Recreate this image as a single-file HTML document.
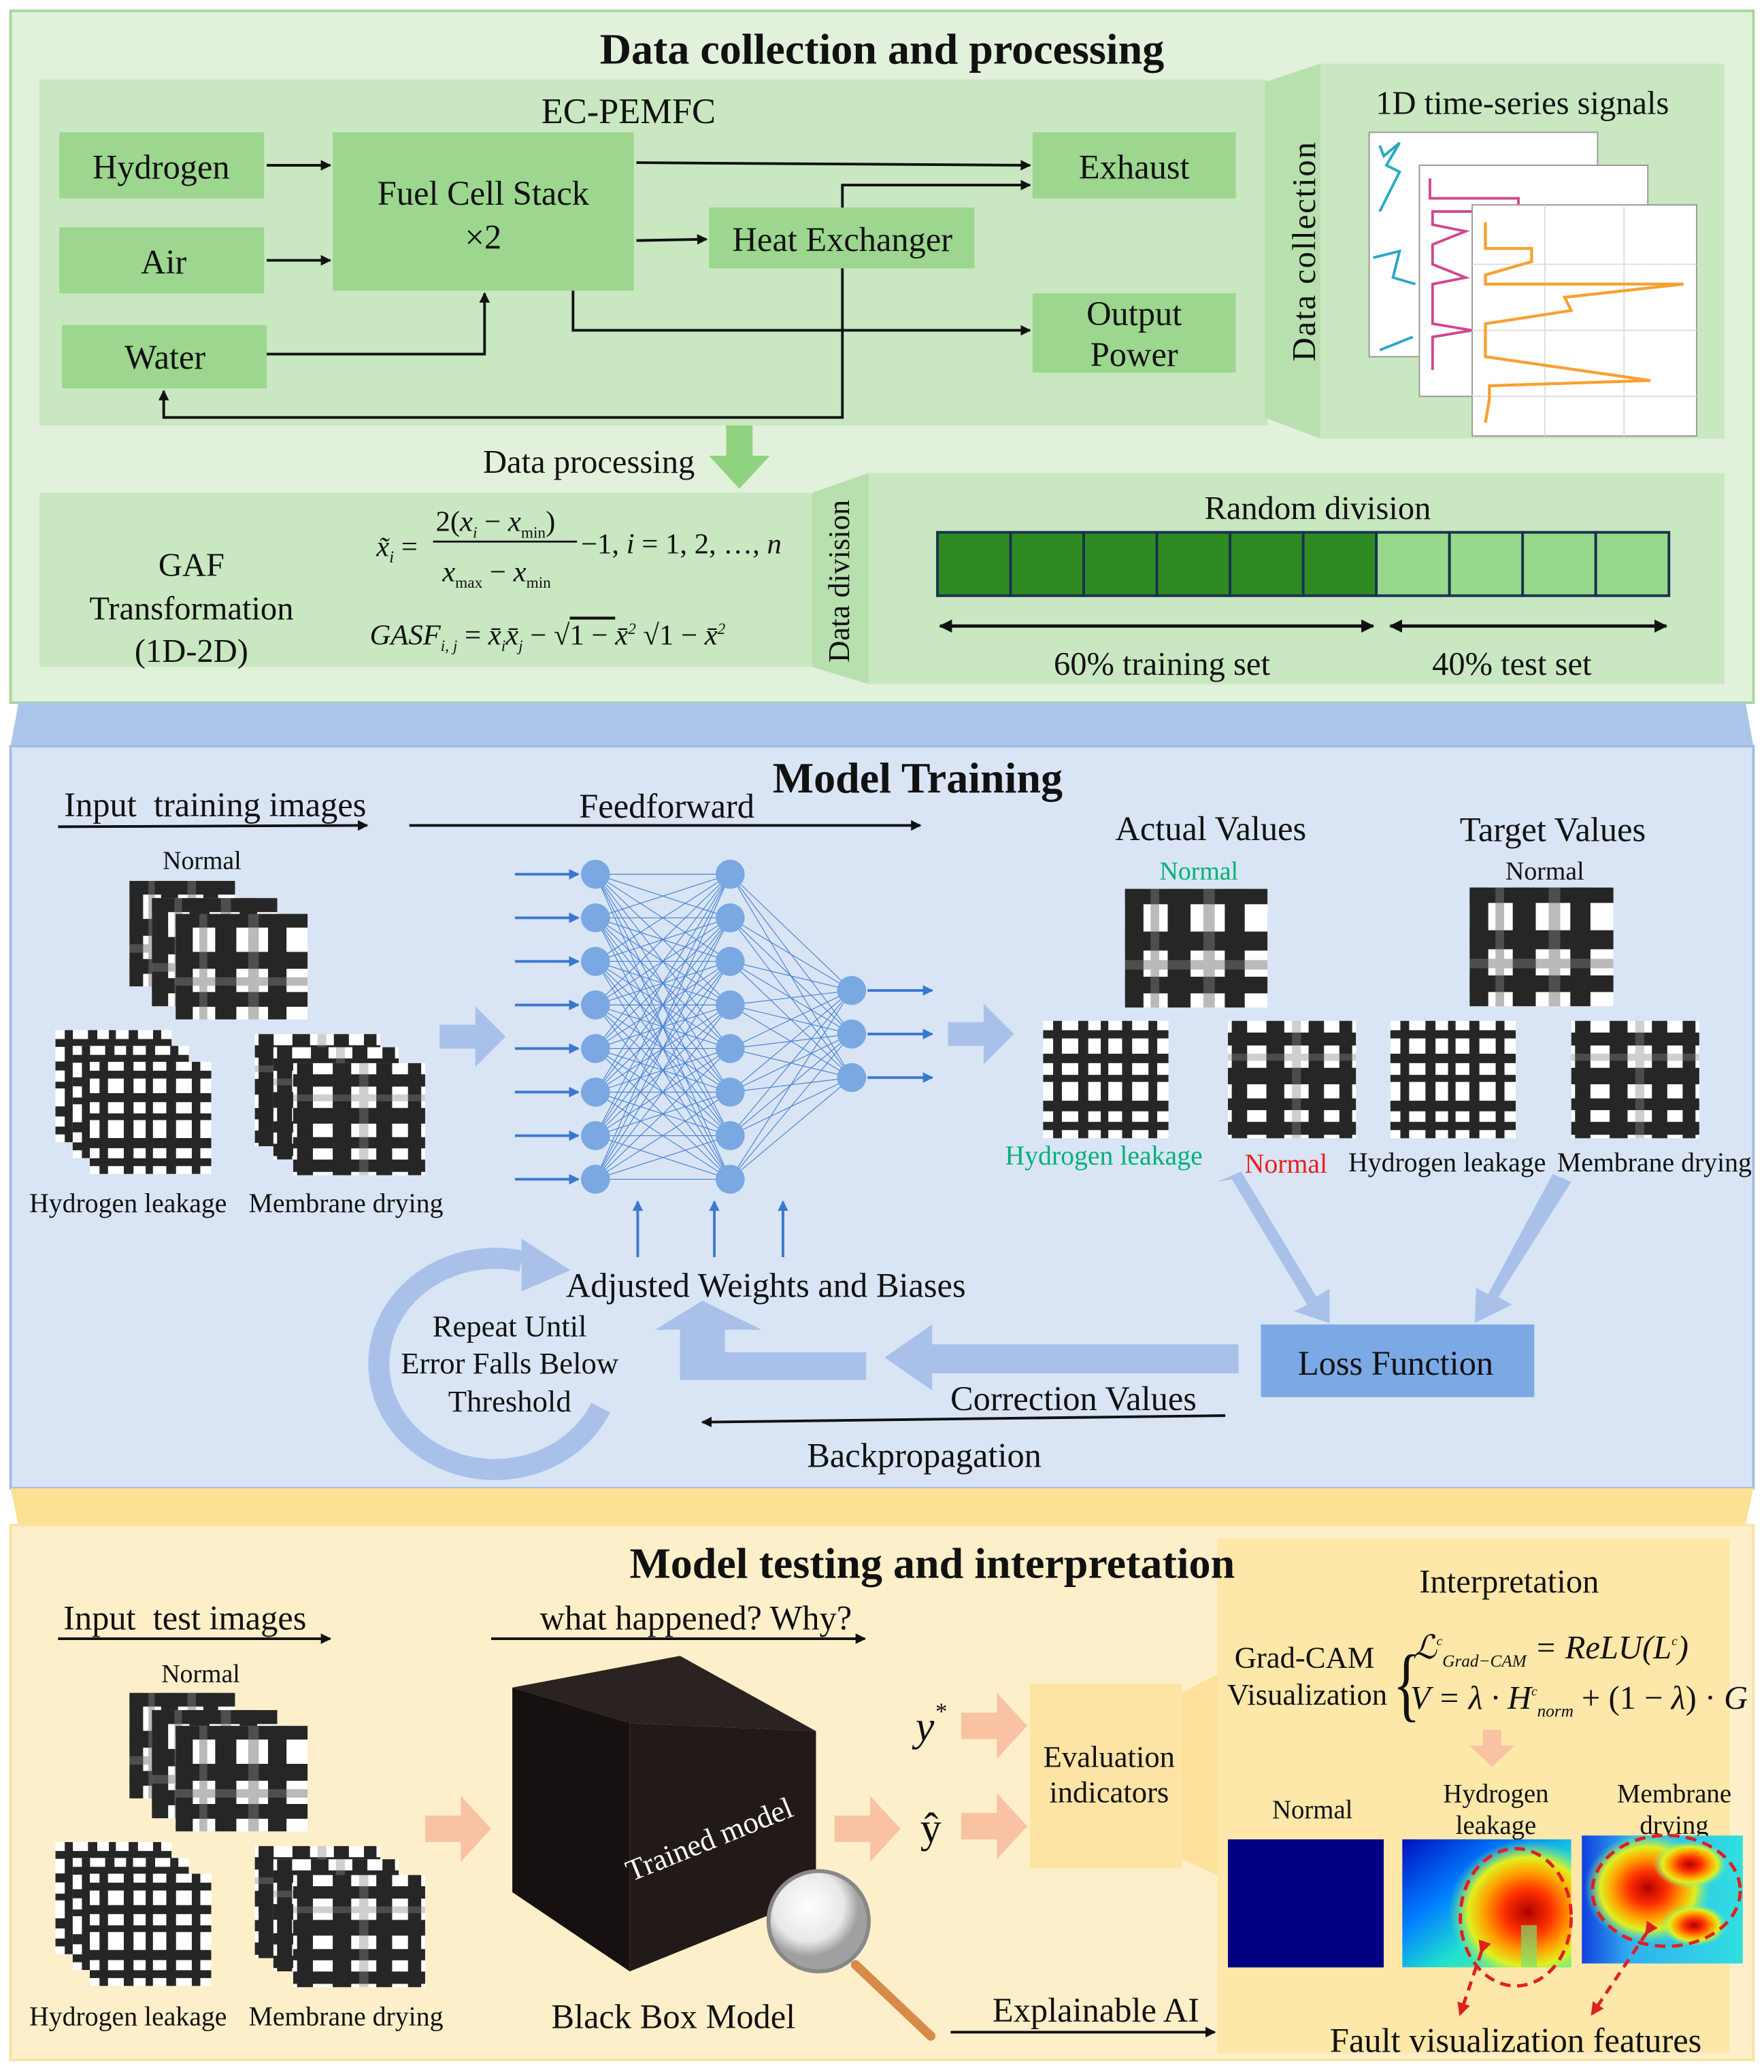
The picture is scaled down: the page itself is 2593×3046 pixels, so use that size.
<!DOCTYPE html>
<html><head><meta charset="utf-8">
<style>
html,body{margin:0;padding:0;background:#fff;}
svg{display:block;}
text{font-family:"Liberation Serif",serif;fill:#111;}
.b{font-weight:bold;}
.it{font-style:italic;}
</style></head>
<body>
<svg width="2593" height="3046" viewBox="0 0 1336 1569" xmlns="http://www.w3.org/2000/svg">
<defs>
<marker id="ah" markerWidth="8" markerHeight="8" refX="7" refY="4" orient="auto" markerUnits="userSpaceOnUse"><path d="M0,0 L8,4 L0,8 z" fill="#111"/></marker>
<marker id="ahs" markerWidth="10" markerHeight="10" refX="9" refY="5" orient="auto-start-reverse" markerUnits="userSpaceOnUse"><path d="M0,0 L10,5 L0,10 z" fill="#111"/></marker>
<marker id="ab" markerWidth="8" markerHeight="8" refX="7" refY="4" orient="auto" markerUnits="userSpaceOnUse"><path d="M0,0 L8,4 L0,8 z" fill="#3a78d0"/></marker>
<marker id="ar" markerWidth="10" markerHeight="10" refX="8" refY="5" orient="auto" markerUnits="userSpaceOnUse"><path d="M0,0 L10,5 L0,10 z" fill="#e02020"/></marker>
<symbol id="gN" viewBox="0 0 10 10" preserveAspectRatio="none">
<rect width="10" height="10" fill="#fff"/>
<g fill="#000" opacity="0.85">
<rect x="0" y="0" width="1.3" height="10"/><rect x="3" y="0" width="1.6" height="10"/><rect x="7" y="0" width="1.4" height="10"/>
<rect x="0" y="0" width="10" height="1.3"/><rect x="0" y="3.6" width="10" height="1.6"/><rect x="0" y="7.4" width="10" height="1.4"/>
</g><g fill="#777" opacity="0.5"><rect x="5.5" y="0" width="0.8" height="10"/><rect x="0" y="6" width="10" height="0.8"/><rect x="1.8" y="0" width="0.6" height="10"/></g>
</symbol>
<symbol id="gH" viewBox="0 0 10 10" preserveAspectRatio="none">
<rect width="10" height="10" fill="#fff"/>
<g fill="#000" opacity="0.85">
<rect x="0.8" y="0" width="0.7" height="10"/><rect x="2.8" y="0" width="0.8" height="10"/><rect x="4.6" y="0" width="0.6" height="10"/><rect x="6.3" y="0" width="0.8" height="10"/><rect x="8.4" y="0" width="0.7" height="10"/>
<rect x="0" y="0.8" width="10" height="0.7"/><rect x="0" y="2.8" width="10" height="0.8"/><rect x="0" y="4.6" width="10" height="0.6"/><rect x="0" y="6.8" width="10" height="0.9"/><rect x="0" y="8.6" width="10" height="0.7"/>
</g></symbol>
<symbol id="gM" viewBox="0 0 10 10" preserveAspectRatio="none">
<rect width="10" height="10" fill="#fff"/>
<g fill="#000" opacity="0.85">
<rect x="0.3" y="0" width="1.2" height="10"/><rect x="3" y="0" width="1.4" height="10"/><rect x="6.3" y="0" width="1.2" height="10"/><rect x="8.7" y="0" width="1" height="10"/>
<rect x="0" y="1" width="10" height="1.1"/><rect x="0" y="4" width="10" height="1.4"/><rect x="0" y="6.6" width="10" height="1"/><rect x="0" y="8.6" width="10" height="1.1"/>
</g><g fill="#888" opacity="0.4"><rect x="5" y="0" width="0.7" height="10"/><rect x="0" y="2.8" width="10" height="0.6"/></g></symbol>
<linearGradient id="hbg" x1="0" y1="0" x2="1" y2="1"><stop offset="0" stop-color="#0010c0"/><stop offset="0.35" stop-color="#0080ff"/><stop offset="0.6" stop-color="#20e0d0"/><stop offset="1" stop-color="#80f060"/></linearGradient>
<linearGradient id="mbg" x1="0" y1="0" x2="1" y2="0"><stop offset="0" stop-color="#1040e0"/><stop offset="0.3" stop-color="#30b0f0"/><stop offset="1" stop-color="#30e0e0"/></linearGradient>
<radialGradient id="hot"><stop offset="0" stop-color="#b00000"/><stop offset="0.3" stop-color="#ff3000"/><stop offset="0.55" stop-color="#ffa000"/><stop offset="0.75" stop-color="#e0f020"/><stop offset="1" stop-color="#60f0a0" stop-opacity="0"/></radialGradient>
<radialGradient id="glass" cx="0.4" cy="0.35"><stop offset="0" stop-color="#fff"/><stop offset="0.7" stop-color="#e8e8e8"/><stop offset="1" stop-color="#a0a0a0"/></radialGradient>
</defs>

<!-- SECTION 1 -->
<rect x="8" y="8" width="1320" height="524" fill="#e2f1db" stroke="#a8d89c" stroke-width="2"/>
<text x="668" y="48" font-size="33" class="b" text-anchor="middle">Data collection and processing</text>
<rect x="30" y="60" width="930" height="262" fill="#c9e7c1"/>
<text x="476" y="93" font-size="27" text-anchor="middle">EC-PEMFC</text>
<g fill="#9dd68f">
<rect x="45" y="100" width="155" height="50"/>
<rect x="45" y="172" width="155" height="50"/>
<rect x="47" y="246" width="155" height="48"/>
<rect x="252" y="100" width="228" height="120"/>
<rect x="537" y="157" width="201" height="46"/>
<rect x="782" y="100" width="154" height="50"/>
<rect x="782" y="222" width="154" height="60"/>
</g>
<g font-size="26" text-anchor="middle">
<text x="122" y="135">Hydrogen</text>
<text x="124" y="207">Air</text>
<text x="125" y="279">Water</text>
<text x="366" y="155">Fuel Cell Stack</text>
<text x="366" y="188">×2</text>
<text x="638" y="190">Heat Exchanger</text>
<text x="859" y="135">Exhaust</text>
<text x="859" y="246">Output</text>
<text x="859" y="277">Power</text>
</g>
<g stroke="#111" stroke-width="2" fill="none" marker-end="url(#ah)">
<path d="M202 125 H250"/>
<path d="M202 197 H250"/>
<path d="M202 268 H367 V222"/>
<path d="M482 123 L780 125"/>
<path d="M638 157 V140 H780"/>
<path d="M482 182 L535 181"/>
<path d="M434 220 V250 H780"/>
<path d="M638 203 V316 H124 V296"/>
</g>
<polygon points="958,62 1000,48 1000,332 958,316" fill="#b8dfae"/>
<rect x="1000" y="48" width="306" height="284" fill="#c9e7c1"/>
<text transform="translate(996,190) rotate(-90)" font-size="25" text-anchor="middle" style="letter-spacing:1px">Data collection</text>
<text x="1153" y="86" font-size="25" text-anchor="middle">1D time-series signals</text>
<rect x="1037" y="100" width="173" height="170" fill="#fff" stroke="#999"/>
<polyline points="1045,110 1048,118 1060,108 1050,125 1060,130 1045,160" fill="none" stroke="#29a8c8" stroke-width="2"/>
<polyline points="1040,195 1060,190 1055,210 1072,215" fill="none" stroke="#29a8c8" stroke-width="2"/>
<polyline points="1045,265 1070,255" fill="none" stroke="#29a8c8" stroke-width="2"/>
<rect x="1075" y="125" width="173" height="175" fill="#fff" stroke="#999"/>
<polyline points="1083,135 1083,150 1150,150 1150,160 1085,160 1085,170 1110,175 1085,185 1085,200 1110,210 1085,215 1085,245 1115,250 1085,255 1085,280" fill="none" stroke="#d04890" stroke-width="2"/>
<rect x="1115" y="155" width="170" height="175" fill="#fff" stroke="#999"/>
<g stroke="#ddd" stroke-width="1"><line x1="1115" y1="200" x2="1285" y2="200"/><line x1="1115" y1="250" x2="1285" y2="250"/><line x1="1115" y1="300" x2="1285" y2="300"/><line x1="1170" y1="155" x2="1170" y2="330"/><line x1="1230" y1="155" x2="1230" y2="330"/></g>
<polyline points="1125,168 1125,188 1160,188 1160,198 1125,208 1125,215 1275,215 1185,225 1190,235 1125,245 1125,270 1250,288 1128,292 1128,302 1125,320" fill="none" stroke="#f8a030" stroke-width="2.2"/>
<polygon points="550,322 570,322 570,345 583,345 560,370 537,345 550,345" fill="#8fd27f"/>
<text x="446" y="358" font-size="25" text-anchor="middle">Data processing</text>
<rect x="30" y="373" width="585" height="132" fill="#c9e7c1"/>
<g font-size="25" text-anchor="middle"><text x="145" y="436">GAF</text><text x="145" y="469">Transformation</text><text x="145" y="501">(1D-2D)</text></g>
<g font-size="22">
<text x="285" y="421" class="it">x̃<tspan font-size="13" dy="5">i</tspan><tspan dy="-5" font-style="normal"> =</tspan></text>
<text x="330" y="402">2(<tspan class="it">x</tspan><tspan font-size="12" dy="5" class="it">i</tspan><tspan dy="-5"> − </tspan><tspan class="it">x</tspan><tspan font-size="12" dy="5">min</tspan><tspan dy="-5">)</tspan></text>
<line x1="328" y1="410" x2="437" y2="410" stroke="#111" stroke-width="1.5"/>
<text x="335" y="440" class="it">x<tspan font-size="12" dy="5" font-style="normal">max</tspan><tspan dy="-5" font-style="normal"> − </tspan>x<tspan font-size="12" dy="5" font-style="normal">min</tspan></text>
<text x="440" y="419">−1, <tspan class="it">i</tspan> = 1, 2, …, <tspan class="it">n</tspan></text>
<text x="280" y="488" class="it">GASF<tspan font-size="12" dy="5">i, j</tspan><tspan dy="-5" font-style="normal"> = </tspan>x̄<tspan font-size="12" dy="5">i</tspan><tspan dy="-5">x̄</tspan><tspan font-size="12" dy="5">j</tspan><tspan dy="-5" font-style="normal"> − √</tspan><tspan text-decoration="overline" font-style="normal">1 − </tspan>x̄<tspan font-size="12" dy="-8">2</tspan><tspan dy="8" font-style="normal"> √</tspan><tspan font-style="normal">1 − </tspan>x̄<tspan font-size="12" dy="-8">2</tspan></text>
</g>
<polygon points="615,373 658,358 658,518 615,505" fill="#b8dfae"/>
<rect x="658" y="358" width="648" height="160" fill="#c9e7c1"/>
<text transform="translate(643,440) rotate(-90)" font-size="23" text-anchor="middle">Data division</text>
<text x="998" y="393" font-size="25" text-anchor="middle">Random division</text>
<g stroke="#17334f" stroke-width="2">
<rect x="710" y="403" width="55.4" height="48" fill="#2d8b22"/><rect x="765.4" y="403" width="55.4" height="48" fill="#2d8b22"/><rect x="820.8" y="403" width="55.4" height="48" fill="#2d8b22"/><rect x="876.2" y="403" width="55.4" height="48" fill="#2d8b22"/><rect x="931.6" y="403" width="55.4" height="48" fill="#2d8b22"/><rect x="987" y="403" width="55.4" height="48" fill="#2d8b22"/>
<rect x="1042.4" y="403" width="55.4" height="48" fill="#98d88a"/><rect x="1097.8" y="403" width="55.4" height="48" fill="#98d88a"/><rect x="1153.2" y="403" width="55.4" height="48" fill="#98d88a"/><rect x="1208.6" y="403" width="55.4" height="48" fill="#98d88a"/>
</g>
<g stroke="#111" stroke-width="2.5" marker-start="url(#ahs)" marker-end="url(#ahs)"><line x1="712" y1="474" x2="1040" y2="474"/><line x1="1053" y1="474" x2="1262" y2="474"/></g>
<text x="880" y="511" font-size="25" text-anchor="middle">60% training set</text>
<text x="1145" y="511" font-size="25" text-anchor="middle">40% test set</text>

<!-- SECTION 2 -->
<polygon points="14,532 1322,532 1328,565 8,565" fill="#aac4ea"/>
<rect x="8" y="565" width="1320" height="562" fill="#d9e5f5" stroke="#a4bde4" stroke-width="2"/>
<text x="695" y="600" font-size="33" class="b" text-anchor="middle">Model Training</text>
<text x="163" y="618" font-size="26" text-anchor="middle" xml:space="preserve">Input  training images</text>
<line x1="44" y1="626" x2="278" y2="625" stroke="#111" stroke-width="2" marker-end="url(#ah)"/>
<text x="505" y="619" font-size="26" text-anchor="middle">Feedforward</text>
<line x1="310" y1="625" x2="697" y2="625" stroke="#111" stroke-width="2" marker-end="url(#ah)"/>
<text x="153" y="658" font-size="19.5" text-anchor="middle">Normal</text>
<g>
<use href="#gN" x="98" y="667" width="80" height="80"/><use href="#gN" x="115" y="680" width="95" height="82"/><use href="#gN" x="133" y="692" width="100" height="80"/>
<use href="#gH" x="42" y="780" width="88" height="85"/><use href="#gH" x="55" y="792" width="88" height="85"/><use href="#gH" x="68" y="804" width="92" height="85"/>
<use href="#gM" x="193" y="783" width="95" height="85"/><use href="#gM" x="207" y="793" width="95" height="85"/><use href="#gM" x="222" y="805" width="100" height="85"/>
</g>
<text x="97" y="918" font-size="20.5" text-anchor="middle">Hydrogen leakage</text>
<text x="262" y="918" font-size="20.5" text-anchor="middle">Membrane drying</text>
<polygon points="333,776 360,776 360,762 383,785 360,808 360,794 333,794" fill="#a9c1e9"/>
<polygon points="718,774 745,774 745,760 768,783 745,806 745,792 718,792" fill="#a9c1e9"/>
<g stroke="#3a78d0" stroke-width="0.6" opacity="0.9">
<path d="M451 662L553 662M451 662L553 695M451 662L553 728M451 662L553 761M451 662L553 794M451 662L553 827M451 662L553 860M451 662L553 893
M451 695L553 662M451 695L553 695M451 695L553 728M451 695L553 761M451 695L553 794M451 695L553 827M451 695L553 860M451 695L553 893
M451 728L553 662M451 728L553 695M451 728L553 728M451 728L553 761M451 728L553 794M451 728L553 827M451 728L553 860M451 728L553 893
M451 761L553 662M451 761L553 695M451 761L553 728M451 761L553 761M451 761L553 794M451 761L553 827M451 761L553 860M451 761L553 893
M451 794L553 662M451 794L553 695M451 794L553 728M451 794L553 761M451 794L553 794M451 794L553 827M451 794L553 860M451 794L553 893
M451 827L553 662M451 827L553 695M451 827L553 728M451 827L553 761M451 827L553 794M451 827L553 827M451 827L553 860M451 827L553 893
M451 860L553 662M451 860L553 695M451 860L553 728M451 860L553 761M451 860L553 794M451 860L553 827M451 860L553 860M451 860L553 893
M451 893L553 662M451 893L553 695M451 893L553 728M451 893L553 761M451 893L553 794M451 893L553 827M451 893L553 860M451 893L553 893
M553 662L645 750M553 662L645 783M553 662L645 816M553 695L645 750M553 695L645 783M553 695L645 816M553 728L645 750M553 728L645 783M553 728L645 816
M553 761L645 750M553 761L645 783M553 761L645 816M553 794L645 750M553 794L645 783M553 794L645 816M553 827L645 750M553 827L645 783M553 827L645 816
M553 860L645 750M553 860L645 783M553 860L645 816M553 893L645 750M553 893L645 783M553 893L645 816"/>
</g>
<g fill="#7aa8e2">
<circle cx="451" cy="662" r="11"/><circle cx="451" cy="695" r="11"/><circle cx="451" cy="728" r="11"/><circle cx="451" cy="761" r="11"/><circle cx="451" cy="794" r="11"/><circle cx="451" cy="827" r="11"/><circle cx="451" cy="860" r="11"/><circle cx="451" cy="893" r="11"/>
<circle cx="553" cy="662" r="11"/><circle cx="553" cy="695" r="11"/><circle cx="553" cy="728" r="11"/><circle cx="553" cy="761" r="11"/><circle cx="553" cy="794" r="11"/><circle cx="553" cy="827" r="11"/><circle cx="553" cy="860" r="11"/><circle cx="553" cy="893" r="11"/>
<circle cx="645" cy="750" r="11"/><circle cx="645" cy="783" r="11"/><circle cx="645" cy="816" r="11"/>
</g>
<g stroke="#3a78d0" stroke-width="2" marker-end="url(#ab)">
<line x1="390" y1="662" x2="438" y2="662"/><line x1="390" y1="695" x2="438" y2="695"/><line x1="390" y1="728" x2="438" y2="728"/><line x1="390" y1="761" x2="438" y2="761"/><line x1="390" y1="794" x2="438" y2="794"/><line x1="390" y1="827" x2="438" y2="827"/><line x1="390" y1="860" x2="438" y2="860"/><line x1="390" y1="893" x2="438" y2="893"/>
<line x1="657" y1="750" x2="706" y2="750"/><line x1="657" y1="783" x2="706" y2="783"/><line x1="657" y1="816" x2="706" y2="816"/>
<line x1="483" y1="952" x2="483" y2="910"/><line x1="541" y1="952" x2="541" y2="910"/><line x1="593" y1="952" x2="593" y2="910"/>
</g>
<text x="917" y="636" font-size="26" text-anchor="middle">Actual Values</text>
<text x="1176" y="637" font-size="26" text-anchor="middle">Target Values</text>
<text x="908" y="666" font-size="19.5" text-anchor="middle" style="fill:#00b07a">Normal</text>
<text x="1170" y="666" font-size="19.5" text-anchor="middle">Normal</text>
<use href="#gN" x="852" y="673" width="108" height="90"/>
<use href="#gN" x="1113" y="672" width="109" height="90"/>
<use href="#gH" x="790" y="773" width="95" height="89"/>
<use href="#gM" x="930" y="773" width="97" height="89"/>
<use href="#gH" x="1053" y="773" width="95" height="89"/>
<use href="#gM" x="1190" y="773" width="97" height="89"/>
<text x="836" y="882" font-size="20.5" text-anchor="middle" style="fill:#00b07a">Hydrogen leakage</text>
<text x="974" y="888" font-size="20.5" text-anchor="middle" style="fill:#e82020">Normal</text>
<text x="1096" y="887" font-size="20.5" text-anchor="middle">Hydrogen leakage</text>
<text x="1253" y="887" font-size="20.5" text-anchor="middle">Membrane drying</text>
<g fill="#a9c1e9">
<polygon points="922,895 940,887 997,982 1007,976 1007,1002 980,993 990,988 933,893"/>
<polygon points="1176,889 1190,895 1135,982 1145,988 1117,1002 1118,975 1127,980"/>
</g>
<rect x="955" y="1003" width="207" height="55" fill="#7ba9e6"/>
<text x="1057" y="1041" font-size="26" text-anchor="middle">Loss Function</text>
<polygon points="938,1018 706,1018 706,1003 670,1028 706,1053 706,1040 938,1040" fill="#a9c1e9"/>
<polygon points="656,1024 549,1024 549,1007 577,1007 532,985 496,1007 515,1007 515,1045 656,1045" fill="#a9c1e9"/>
<path d="M455 1066 A 88 80 0 1 1 395 955" fill="none" stroke="#a9c1e9" stroke-width="16"/>
<polygon points="395,938 432,962 395,978" fill="#a9c1e9"/>
<text x="580" y="982" font-size="26" text-anchor="middle">Adjusted Weights and Biases</text>
<g font-size="23" text-anchor="middle"><text x="386" y="1012">Repeat Until</text><text x="386" y="1040">Error Falls Below</text><text x="386" y="1069">Threshold</text></g>
<text x="813" y="1068" font-size="26" text-anchor="middle">Correction Values</text>
<line x1="928" y1="1072" x2="532" y2="1077" stroke="#111" stroke-width="2" marker-end="url(#ah)"/>
<text x="700" y="1111" font-size="26" text-anchor="middle">Backpropagation</text>

<!-- SECTION 3 -->
<polygon points="8,1127 1328,1127 1322,1155 14,1155" fill="#fce194"/>
<rect x="8" y="1155" width="1320" height="405" fill="#fdefc9" stroke="#fbe3a4" stroke-width="2"/>
<rect x="922" y="1165" width="388" height="390" fill="#fde7a9"/>
<text x="706" y="1195" font-size="33" class="b" text-anchor="middle">Model testing and interpretation</text>
<text x="140" y="1234" font-size="26" text-anchor="middle" xml:space="preserve">Input  test images</text>
<line x1="44" y1="1241" x2="250" y2="1241" stroke="#111" stroke-width="2" marker-end="url(#ah)"/>
<text x="527" y="1234" font-size="26" text-anchor="middle">what happened? Why?</text>
<line x1="372" y1="1241" x2="655" y2="1241" stroke="#111" stroke-width="2" marker-end="url(#ah)"/>
<text x="152" y="1274" font-size="19.5" text-anchor="middle">Normal</text>
<use href="#gN" x="98" y="1282" width="80" height="80"/><use href="#gN" x="115" y="1295" width="95" height="82"/><use href="#gN" x="133" y="1307" width="100" height="80"/>
<use href="#gH" x="42" y="1395" width="88" height="85"/><use href="#gH" x="55" y="1407" width="88" height="85"/><use href="#gH" x="68" y="1419" width="92" height="85"/>
<use href="#gM" x="193" y="1398" width="95" height="85"/><use href="#gM" x="207" y="1408" width="95" height="85"/><use href="#gM" x="222" y="1420" width="100" height="85"/>
<text x="97" y="1534" font-size="20.5" text-anchor="middle">Hydrogen leakage</text>
<text x="262" y="1534" font-size="20.5" text-anchor="middle">Membrane drying</text>
<g fill="#f9c3a3">
<polygon points="322,1375 349,1375 349,1360 372,1385 349,1410 349,1395 322,1395"/>
<polygon points="632,1375 659,1375 659,1360 682,1385 659,1410 659,1395 632,1395"/>
<polygon points="728,1297 755,1297 755,1282 778,1307 755,1332 755,1317 728,1317"/>
<polygon points="728,1373 755,1373 755,1358 778,1383 755,1408 755,1393 728,1393"/>
<polygon points="1123,1310 1137,1310 1137,1322 1147,1322 1130,1338 1113,1322 1123,1322"/>
</g>
<polygon points="388,1278 515,1254 618,1311 477,1305" fill="#2b2321"/>
<polygon points="388,1278 477,1305 477,1493 388,1433" fill="#161110"/>
<polygon points="477,1305 618,1311 618,1436 477,1493" fill="#221a18"/>
<text transform="translate(540,1400) rotate(-22)" font-size="23" text-anchor="middle" style="fill:#fff">Trained model</text>
<line x1="648" y1="1488" x2="705" y2="1542" stroke="#d88a48" stroke-width="7" stroke-linecap="round"/>
<circle cx="620" cy="1455" r="38" fill="url(#glass)" stroke="#888" stroke-width="3"/>
<text x="510" y="1536" font-size="26" text-anchor="middle">Black Box Model</text>
<text x="705" y="1318" font-size="32" class="it" text-anchor="middle">y<tspan font-size="18" dy="-16">*</tspan></text>
<text x="705" y="1395" font-size="32" text-anchor="middle">ŷ</text>
<polygon points="895,1282 922,1268 922,1420 895,1408" fill="#fde09a"/>
<rect x="780" y="1275" width="115" height="140" fill="#fde4a4"/>
<text x="840" y="1338" font-size="23" text-anchor="middle">Evaluation</text>
<text x="840" y="1365" font-size="23" text-anchor="middle">indicators</text>
<text x="1143" y="1206" font-size="25" text-anchor="middle">Interpretation</text>
<text x="988" y="1263" font-size="23" text-anchor="middle">Grad-CAM</text>
<text x="990" y="1291" font-size="23" text-anchor="middle">Visualization</text>
<text x="1052" y="1296" font-size="62" style="font-weight:100" transform="scale(0.7,1) translate(455,0)">{</text>
<text x="1070" y="1256" font-size="25" class="it">ℒ<tspan font-size="10" dy="-10">c</tspan><tspan font-size="13" dy="16">Grad−CAM</tspan><tspan dy="-6"> = ReLU(L</tspan><tspan font-size="10" dy="-10">c</tspan><tspan dy="10">)</tspan></text>
<text x="1068" y="1294" font-size="25" class="it">V = λ · H<tspan font-size="10" dy="-10">c</tspan><tspan font-size="13" dy="16">norm</tspan><tspan dy="-6" font-style="normal"> + (1 − </tspan>λ<tspan font-style="normal">) · </tspan>G</text>
<text x="994" y="1377" font-size="20" text-anchor="middle">Normal</text>
<text x="1133" y="1365" font-size="20" text-anchor="middle">Hydrogen</text><text x="1133" y="1389" font-size="20" text-anchor="middle">leakage</text>
<text x="1268" y="1365" font-size="20" text-anchor="middle">Membrane</text><text x="1268" y="1389" font-size="20" text-anchor="middle">drying</text>
<rect x="930" y="1393" width="118" height="97" fill="#000080"/>
<svg x="1062" y="1393" width="128" height="97" viewBox="0 0 128 97" overflow="hidden">
<rect width="128" height="97" fill="url(#hbg)"/>
<ellipse cx="95" cy="55" rx="60" ry="55" fill="url(#hot)"/>
<rect x="90" y="65" width="12" height="32" fill="#7ce070" opacity="0.7"/>
</svg>
<svg x="1198" y="1390" width="122" height="97" viewBox="0 0 122 97" overflow="hidden">
<rect width="122" height="97" fill="url(#mbg)"/>
<ellipse cx="50" cy="40" rx="48" ry="42" fill="url(#hot)"/>
<ellipse cx="82" cy="22" rx="28" ry="18" fill="url(#hot)"/>
<ellipse cx="85" cy="68" rx="25" ry="16" fill="url(#hot)"/>
</svg>
<g fill="none" stroke="#e02020" stroke-width="2.5" stroke-dasharray="8,5">
<ellipse cx="1148" cy="1452" rx="42" ry="52"/>
<ellipse cx="1262" cy="1432" rx="56" ry="42"/>
</g>
<g stroke="#e02020" stroke-width="2.5" stroke-dasharray="7,5" marker-end="url(#ar)" marker-start="url(#ar)">
<line x1="1122" y1="1478" x2="1106" y2="1525"/>
<line x1="1247" y1="1464" x2="1206" y2="1525"/>
</g>
<text x="1148" y="1554" font-size="26" text-anchor="middle">Fault visualization features</text>
<text x="830" y="1531" font-size="26" text-anchor="middle">Explainable AI</text>
<line x1="720" y1="1539" x2="920" y2="1539" stroke="#111" stroke-width="2" marker-end="url(#ah)"/>
</svg>
</body></html>
